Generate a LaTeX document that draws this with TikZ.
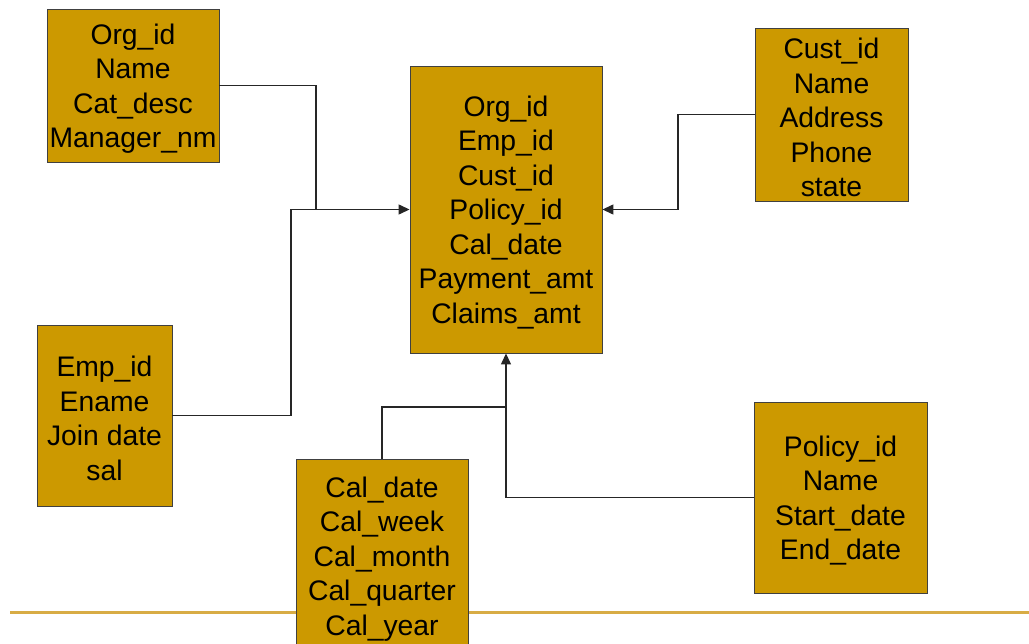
\documentclass[tikz,border=0pt]{standalone}
\usepackage{fontspec}
\setmainfont{Liberation Sans}
\usetikzlibrary{arrows.meta,calc}
\definecolor{boxfill}{HTML}{CC9900}
\definecolor{rulegold}{HTML}{D8AC45}
\begin{document}
\begin{tikzpicture}[x=1pt,y=-1pt,
  tbl/.style={draw=black!75,line width=0.9pt,fill=boxfill,rectangle,inner sep=0pt},
  fields/.style={inner sep=0pt,align=center,font=\fontsize{28.3}{34.5}\selectfont},
  link/.style={draw=black!85,line width=1.3pt},
  arr/.style={link,-{Triangle[length=11pt,width=10pt]}}]
\useasboundingbox (0,0) rectangle (1029,644);
% rule along the bottom
\draw[rulegold,line width=3pt] (10,612.5) -- (1029,612.5);
% dimension tables
\node[tbl,minimum width=172pt,minimum height=153pt] (org) at (133,85.5) {};
\node[fields] (orgf) at ($(org.center)+(0,3)$) {Org\_id\\Name\\Cat\_desc\\Manager\_nm};
\node[tbl,minimum width=135pt,minimum height=181pt] (emp) at (104.5,415.5) {};
\node[fields] (empf) at ($(emp.center)+(0,3)$) {Emp\_id\\Ename\\Join date\\sal};
\node[tbl,minimum width=172pt,minimum height=194pt] (cal) at (382,556) {};
\node[fields] (calf) at ($(cal.center)+(0,3)$) {Cal\_date\\Cal\_week\\Cal\_month\\Cal\_quarter\\Cal\_year};
\node[tbl,minimum width=153pt,minimum height=173pt] (cust) at (831.5,114.5) {};
\node[fields] (custf) at ($(cust.center)+(0,3)$) {Cust\_id\\Name\\Address\\Phone\\state};
\node[tbl,minimum width=173pt,minimum height=191pt] (policy) at (840.5,497.5) {};
\node[fields] (policyf) at ($(policy.center)+(0,3)$) {Policy\_id\\Name\\Start\_date\\End\_date};
% fact table
\node[tbl,minimum width=192pt,minimum height=287pt] (fact) at (506,209.5) {};
\node[fields] (factf) at ($(fact.center)+(0,3)$) {Org\_id\\Emp\_id\\Cust\_id\\Policy\_id\\Cal\_date\\Payment\_amt\\Claims\_amt};
% junction points
\coordinate (jorg) at (316,209.5);
\coordinate (jemp) at (291,209.5);
\coordinate (jcust) at (678,209.5);
\coordinate (jcal) at (506,407);
% connectors
\draw[arr] (org.east) -| (jorg) -- (fact.west);
\draw[link] (emp.east) -| (jemp) -- (jorg);
\draw[arr] (cust.west) -| (jcust) -- (fact.east);
\draw[link] (cal.north) |- (jcal);
\draw[arr] (policy.west) -| (fact.south);
\end{tikzpicture}
\end{document}
